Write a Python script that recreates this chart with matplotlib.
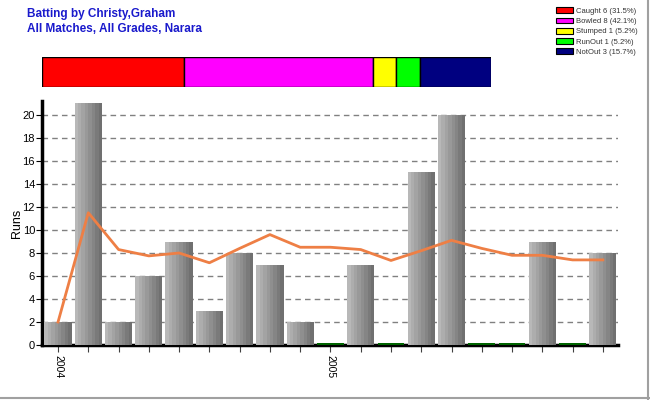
import matplotlib
matplotlib.use("Agg")
import matplotlib.pyplot as plt
from matplotlib.patches import Patch
from matplotlib.lines import Line2D
import numpy as np

plt.rcParams['font.family'] = ['Liberation Sans', 'DejaVu Sans']

# innings by innings runs
runs = [2, 21, 2, 6, 9, 3, 8, 7, 2, 0, 7, 0, 15, 20, 0, 0, 9, 0, 8]
# running batting average
average = [2, 11.5, 8.3, 7.75, 8.0, 7.15, 8.4, 9.6, 8.5, 8.5, 8.3, 7.35, 8.2, 9.1, 8.4, 7.8, 7.8, 7.4, 7.4]
year_ticks = {0: "2004", 9: "2005"}

dismissals = ["Caught", "Bowled", "Stumped", "RunOut", "NotOut"]
dismissal_counts = [6, 8, 1, 1, 3]
dismissal_pct = ["31.5%", "42.1%", "5.2%", "5.2%", "15.7%"]
dismissal_colors = ["#ff0000", "#ff00ff", "#ffff00", "#00ff00", "#000080"]

fig = plt.figure(figsize=(6.5, 4), dpi=100)

# main runs chart
ax = fig.add_axes([42/650, 1 - 345/400, 576/650, 243.8/400])
x = np.arange(len(runs))
width = 0.9
nstrip = 8
shades = np.linspace(0.72, 0.44, nstrip)
for i, r in enumerate(runs):
    if r == 0:
        ax.bar(i, 0.17, width=0.88, color="#006400", zorder=3)
        continue
    for k in range(nstrip):
        left = i - width / 2 + k * width / nstrip
        ax.bar(left, r, width=width / nstrip, align="edge",
               color=str(shades[k]), linewidth=0, zorder=3)

ax.plot(x, average, color="#ee7f45", linewidth=2, zorder=4)

ax.set_xlim(-0.53, 18.5)
ax.set_ylim(0, 21.2)
ax.set_yticks(range(0, 21, 2))
ax.yaxis.grid(True, linestyle=(0, (4, 3)), color="#808080", linewidth=1, zorder=1)
ax.set_axisbelow(True)
ax.set_xticks(x)
ax.set_xticklabels([year_ticks.get(i, "") for i in x], rotation=270, fontsize=7.5)
ax.tick_params(axis="x", length=5, width=0.8, color="#404040", pad=2)
ax.tick_params(axis="y", length=4, width=0.8, labelsize=8, pad=1)
for s in ["top", "right"]:
    ax.spines[s].set_visible(False)
ax.spines["left"].set_linewidth(2.5)
ax.spines["bottom"].set_linewidth(2.5)
ax.set_ylabel("Runs", fontsize=9, labelpad=0)

# dismissal share bar
bx = fig.add_axes([42/650, 1 - 87/400, 449/650, 30/400])
left = 0
for n, c in zip(dismissal_counts, dismissal_colors):
    bx.barh(0, n, left=left, height=1, color=c, edgecolor="black", linewidth=1)
    left += n
bx.set_xlim(0, sum(dismissal_counts))
bx.set_ylim(-0.5, 0.5)
bx.axis("off")

handles = [Patch(facecolor=c, edgecolor="black", linewidth=0.8,
                 label=f"{d} {n} ({p})")
           for d, n, p, c in zip(dismissals, dismissal_counts, dismissal_pct, dismissal_colors)]
fig.legend(handles=handles, loc="upper left", bbox_to_anchor=(551/650, 1 - 2/400),
           frameon=False, fontsize=5.5, handlelength=2.2, handleheight=0.8,
           labelspacing=0.35, handletextpad=0.4, borderpad=0.2,
           labelcolor="#333333")

fig.text(27/650, 1 - 17/400, "Batting by Christy,Graham", color="#1a1acc",
         fontsize=8.5, fontweight="bold")
fig.text(27/650, 1 - 32/400, "All Matches, All Grades, Narara", color="#1a1acc",
         fontsize=8.5, fontweight="bold")

# grey frame on the right and bottom edges
fig.add_artist(Line2D([648/650, 648/650], [0, 1], color="#a0a0a0", linewidth=1.5))
fig.add_artist(Line2D([0, 1], [2/400, 2/400], color="#a0a0a0", linewidth=1.5))

fig.savefig("out.png", dpi=100)
